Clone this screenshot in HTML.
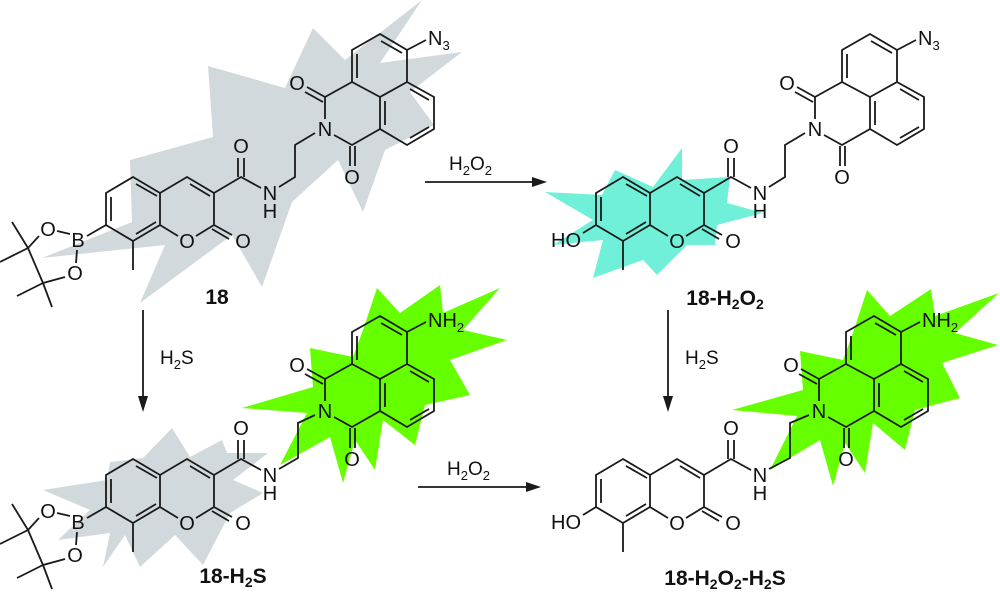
<!DOCTYPE html>
<html><head><meta charset="utf-8"><style>
html,body{margin:0;padding:0;background:#fff;}
svg{display:block;}
text{font-family:"Liberation Sans",sans-serif;fill:#111;}
.a{font-size:20px;text-anchor:middle;}
.l{font-size:21px;font-weight:bold;text-anchor:middle;}
.r{font-size:19px;}
path{stroke-width:1.8;}
</style></head><body>
<svg width="1000" height="596" viewBox="0 0 1000 596" xmlns="http://www.w3.org/2000/svg">
<polygon fill="#d2d9dc" points="42,258 132,222 130,160 213,137 208,66 285,88 313,28 345,60 422,0 380,63 462,52 410,92 434,125 385,150 363,212 338,160 292,202 262,287 232,235 140,303 165,245"/>
<polygon fill="#d2d9dc" points="43,490 107,480 110,462 143,458 172,428 190,457 222,440 227,453 268,453 233,480 263,493 230,513 203,565 175,535 140,567 125,535 103,567 110,533 58,540 90,510"/>
<polygon fill="#66ff00" points="377,288 400,313 440,285 443,313 500,288 463,330 507,340 450,360 470,395 425,405 415,445 383,420 375,470 355,440 343,483 330,437 280,465 307,413 242,408 313,387 310,348 353,357 363,330"/>
<polygon fill="#66ff00" points="867,290 890,316 931,289 935,316 999,293 955,333 998,345 942,363 960,398 915,410 905,450 873,423 865,473 845,443 833,486 820,440 770,470 797,416 732,410 803,390 800,351 843,360 853,333"/>
<polygon fill="#70f0d8" points="545,192 602,195 615,170 653,187 682,148 682,180 730,177 727,203 763,213 717,225 715,245 687,245 657,275 643,260 593,278 603,240 553,245 593,220"/>

<g transform="translate(0,0)">
<path stroke="#1a1a1a" fill="none" d="M133,177L160,193L160,225L133,241L106,225L106,193Z M111,197L111,221 M136,184L157,196 M156,222L136,234 M160,193L187,177L214,193L214,225L196,236 M160,225L178,236 M190,184L210,196 M214,225L232,235 M212,229L229,239 M214,193L241,177L261,188 M238,177L238,158 M244,177L244,158 M279,187L295,177L295,145L315,133 M325,119L325,97L352,82L380,97L380,129L352,145L334,135 M325,97L307,87 M323,102L305,92 M350,146L350,166 M355,146L355,166 M352,82L352,50L380,34L407,50L407,82L380,97 M357,54L357,78 M381,41L402,53 M385,101L385,125 M407,82L434,97L434,129L407,145L380,129 M410,89L429,100 M410,138L429,127 M133,241L133,270"/>
<text class="a" x="243" y="248">O</text><text class="a" x="187" y="248">O</text><text class="a" x="241" y="153">O</text>
<text class="a" x="270" y="200">N</text><text class="a" x="270" y="218">H</text>
<text class="a" x="325" y="136">N</text><text class="a" x="297" y="90">O</text><text class="a" x="352" y="184">O</text>
<path stroke="#1a1a1a" fill="none" d="M407,50L426,40 M106,225L87,236 M70,234L57,231 M77,250L76,263 M39,236L28,248L43,283L65,277 M28,248L0,262 M28,248L12,222 M43,283L17,296 M43,283L52,307"/>
<text class="a" x="78" y="247">B</text><text class="a" x="48" y="236">O</text><text class="a" x="75" y="280">O</text>
<text x="428" y="45" font-size="20">N<tspan font-size="13" dy="5">3</tspan></text>
<text class="l" x="217" y="304">18</text>
</g>

<g transform="translate(490,0)">
<path stroke="#1a1a1a" fill="none" d="M133,177L160,193L160,225L133,241L106,225L106,193Z M111,197L111,221 M136,184L157,196 M156,222L136,234 M160,193L187,177L214,193L214,225L196,236 M160,225L178,236 M190,184L210,196 M214,225L232,235 M212,229L229,239 M214,193L241,177L261,188 M238,177L238,158 M244,177L244,158 M279,187L295,177L295,145L315,133 M325,119L325,97L352,82L380,97L380,129L352,145L334,135 M325,97L307,87 M323,102L305,92 M350,146L350,166 M355,146L355,166 M352,82L352,50L380,34L407,50L407,82L380,97 M357,54L357,78 M381,41L402,53 M385,101L385,125 M407,82L434,97L434,129L407,145L380,129 M410,89L429,100 M410,138L429,127 M133,241L133,270 M407,50L426,40 M106,225L93,233"/>
<text class="a" x="243" y="248">O</text><text class="a" x="187" y="248">O</text><text class="a" x="241" y="153">O</text>
<text class="a" x="270" y="200">N</text><text class="a" x="270" y="218">H</text>
<text class="a" x="325" y="136">N</text><text class="a" x="297" y="90">O</text><text class="a" x="352" y="184">O</text>
<text class="a" x="76" y="247">HO</text>
<text x="428" y="45" font-size="20">N<tspan font-size="13" dy="5">3</tspan></text>
<text class="l" x="235" y="305">18-H<tspan font-size="14" dy="4">2</tspan><tspan dy="-4">O</tspan><tspan font-size="14" dy="4">2</tspan></text>
</g>

<g transform="translate(0,282)">
<path stroke="#1a1a1a" fill="none" d="M133,177L160,193L160,225L133,241L106,225L106,193Z M111,197L111,221 M136,184L157,196 M156,222L136,234 M160,193L187,177L214,193L214,225L196,236 M160,225L178,236 M190,184L210,196 M214,225L232,235 M212,229L229,239 M214,193L241,177L261,188 M238,177L238,158 M244,177L244,158 M279,187L298,176L298,141L315,133 M325,119L325,97L352,82L380,97L380,129L352,145L334,135 M325,97L307,87 M323,102L305,92 M350,146L350,166 M355,146L355,166 M352,82L352,50L380,34L407,50L407,82L380,97 M357,54L357,78 M381,41L402,53 M385,101L385,125 M407,82L434,97L434,129L407,145L380,129 M410,89L429,100 M410,138L429,127 M133,241L133,270 M407,50L426,40 M106,225L87,236 M70,234L57,231 M77,250L76,263 M39,236L28,248L43,283L65,277 M28,248L0,262 M28,248L12,222 M43,283L17,296 M43,283L52,307"/>
<text class="a" x="243" y="248">O</text><text class="a" x="187" y="248">O</text><text class="a" x="241" y="153">O</text>
<text class="a" x="270" y="200">N</text><text class="a" x="270" y="218">H</text>
<text class="a" x="325" y="136">N</text><text class="a" x="297" y="90">O</text><text class="a" x="352" y="184">O</text>
<text class="a" x="78" y="247">B</text><text class="a" x="48" y="236">O</text><text class="a" x="75" y="280">O</text>
<text x="428" y="45" font-size="20">NH<tspan font-size="13" dy="5">2</tspan></text>
<text class="l" x="233" y="301">18-H<tspan font-size="14" dy="4">2</tspan><tspan dy="-4">S</tspan></text>
</g>

<g transform="translate(490,282)">
<path stroke="#1a1a1a" fill="none" d="M133,177L160,193L160,225L133,241L106,225L106,193Z M111,197L111,221 M136,184L157,196 M156,222L136,234 M160,193L187,177L214,193L214,225L196,236 M160,225L178,236 M190,184L210,196 M214,225L232,235 M212,229L229,239 M214,193L241,177L261,188 M238,177L238,158 M244,177L244,158 M279,187L300,176L300,141L319,133 M329,119L329,97L356,82L384,97L384,129L356,145L338,135 M329,97L311,87 M327,102L309,92 M354,146L354,166 M359,146L359,166 M356,82L356,50L384,34L411,50L411,82L384,97 M361,54L361,78 M385,41L406,53 M389,101L389,125 M411,82L438,97L438,129L411,145L384,129 M414,89L433,100 M414,138L433,127 M133,241L133,270 M411,50L430,40 M106,225L93,233"/>
<text class="a" x="243" y="248">O</text><text class="a" x="187" y="248">O</text><text class="a" x="241" y="153">O</text>
<text class="a" x="270" y="200">N</text><text class="a" x="270" y="218">H</text>
<text class="a" x="329" y="136">N</text><text class="a" x="301" y="90">O</text><text class="a" x="356" y="184">O</text>
<text class="a" x="76" y="247">HO</text>
<text x="432" y="45" font-size="20">NH<tspan font-size="13" dy="5">2</tspan></text>
<text class="l" x="235" y="303">18-H<tspan font-size="14" dy="4">2</tspan><tspan dy="-4">O</tspan><tspan font-size="14" dy="4">2</tspan><tspan dy="-4">-H</tspan><tspan font-size="14" dy="4">2</tspan><tspan dy="-4">S</tspan></text>
</g>

<g stroke="#1a1a1a" stroke-width="1.8">
<line x1="425" y1="182" x2="536" y2="182"/>
<line x1="418" y1="487" x2="530" y2="487"/>
<line x1="143" y1="310" x2="143" y2="400"/>
<line x1="668" y1="310" x2="668" y2="400"/>
</g>
<g fill="#1a1a1a">
<polygon points="547,182 532,177 532,187"/>
<polygon points="541,487 526,482 526,492"/>
<polygon points="143,412 138,396 148,396"/>
<polygon points="668,412 663,396 673,396"/>
</g>
<text class="r" x="449" y="170">H<tspan font-size="13" dy="5">2</tspan><tspan dy="-5">O</tspan><tspan font-size="13" dy="5">2</tspan></text>
<text class="r" x="447" y="475">H<tspan font-size="13" dy="5">2</tspan><tspan dy="-5">O</tspan><tspan font-size="13" dy="5">2</tspan></text>
<text class="r" x="160" y="364">H<tspan font-size="13" dy="5">2</tspan><tspan dy="-5">S</tspan></text>
<text class="r" x="685" y="364">H<tspan font-size="13" dy="5">2</tspan><tspan dy="-5">S</tspan></text>
</svg>
</body></html>
